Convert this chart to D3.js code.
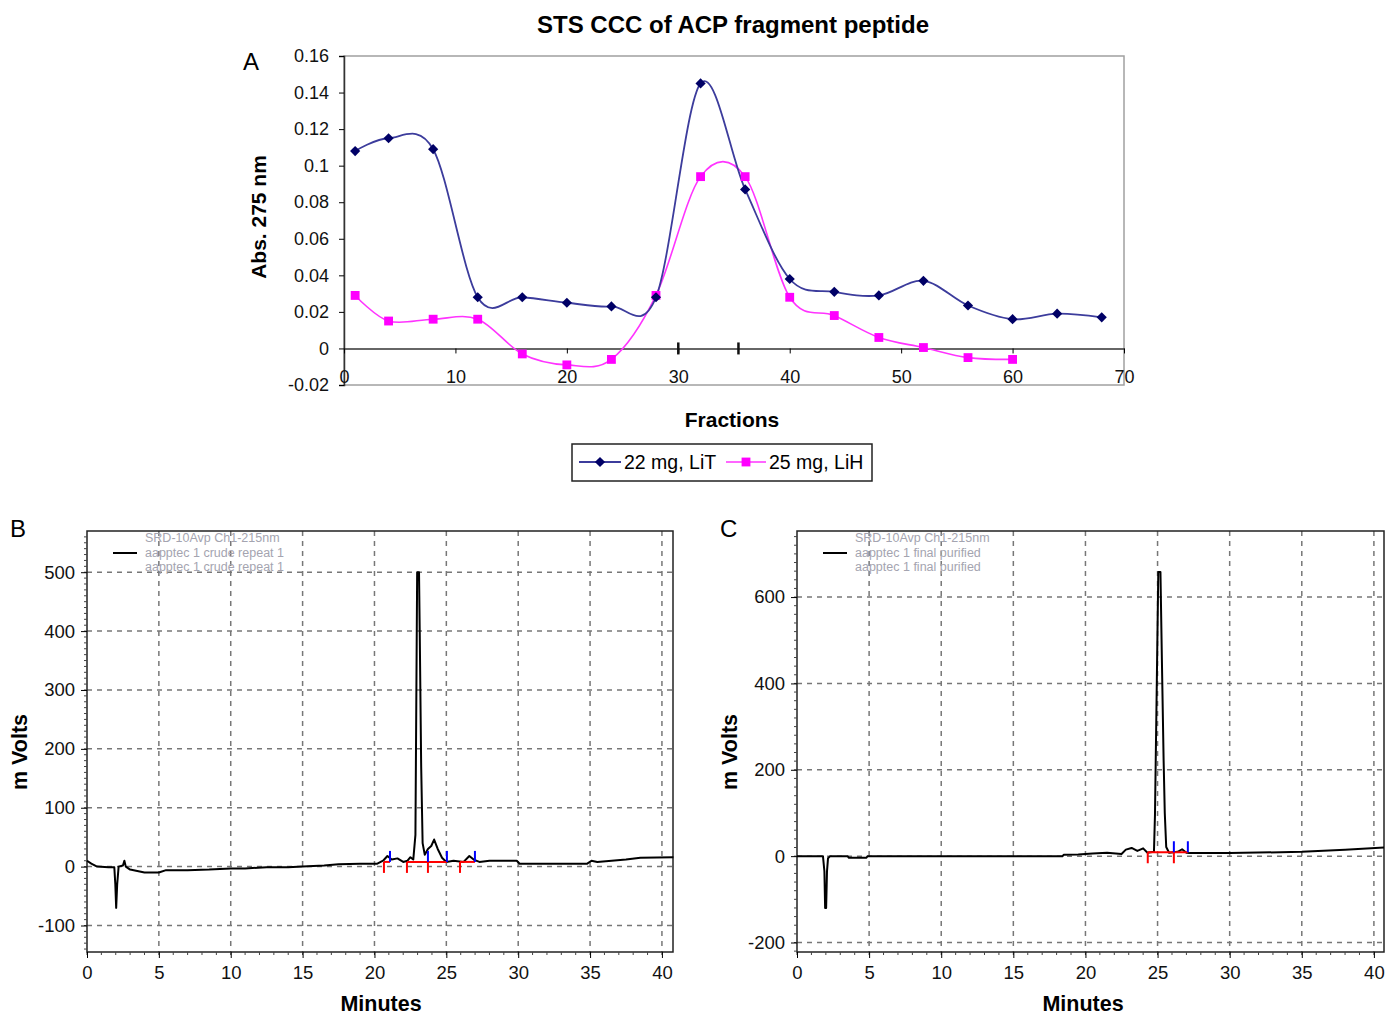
<!DOCTYPE html>
<html>
<head>
<meta charset="utf-8">
<script src="https://cdn.jsdelivr.net/npm/d3@7"></script>
<style>
  body { margin: 0; background: #fff; }
  svg { display: block; font-family: "Liberation Sans", Arial, sans-serif; }
</style>
</head>
<body>
<div id="vis"></div>
<script>
// ---------- Panel A data (CCC fractions) ----------
const fractionsLiT = [1, 4, 8, 12, 16, 20, 24, 28, 32, 36, 40, 44, 48, 52, 56, 60, 64, 68];
const absLiT = [0.108, 0.115, 0.109, 0.028, 0.028, 0.025, 0.023, 0.028, 0.145, 0.087, 0.038, 0.031, 0.029, 0.037, 0.0235, 0.016, 0.019, 0.017];
const fractionsLiH = [1, 4, 8, 12, 16, 20, 24, 28, 32, 36, 40, 44, 48, 52, 56, 60];
const absLiH = [0.029, 0.015, 0.016, 0.016, -0.003, -0.009, -0.006, 0.029, 0.094, 0.094, 0.028, 0.018, 0.006, 0.0005, -0.005, -0.006];
const yTicksA = [-0.02, 0, 0.02, 0.04, 0.06, 0.08, 0.1, 0.12, 0.14, 0.16];
const xTicksA = [0, 10, 20, 30, 40, 50, 60, 70];
const fractionMarks = [30, 35.4];

// ---------- Panel B data (crude HPLC trace) ----------
const timeB = [0, 0.3, 0.7, 1.5, 1.9, 1.97, 2.03, 2.1, 2.2, 2.5, 2.6, 2.7, 3.0, 4.0, 5.0, 5.5, 7, 8.5, 10, 11, 12.5, 14, 15, 16.5, 17.5, 19, 20.2,
  20.6, 20.9, 21.2, 21.6, 22.0, 22.3, 22.5, 22.7, 22.85, 22.97, 23.1, 23.15, 23.25, 23.35, 23.5, 23.72, 23.95, 24.15, 24.4, 24.7, 25.0,
  25.5, 26.2, 26.6, 26.9, 27.3, 28, 29.9, 30.1, 34.8, 35.1, 35.5, 36.5, 37.5, 38.5, 40.8];
const mvB = [10, 5, 0, -1, -1, -30, -70, -30, 0, 2, 10, 0, -5, -10, -10, -6, -6, -5, -3, -3, -1, -1, 0, 2, 4, 5, 5,
  10, 18, 12, 14, 8, 10, 16, 12, 54, 500, 500, 397, 170, 40, 20, 30, 35, 46, 30, 15, 8,
  10, 8, 18, 12, 8, 10, 10, 5, 5, 10, 8, 10, 12, 15, 16];
const redTicksB = [20.66, 22.26, 23.72, 25.95];
const blueTicksB = [21.08, 23.72, 25.04, 26.99];
const redStartB = [20.66, 22.26, 25.95];
const redEndB = [21.08, 25.04, 26.99];
const legendB = ["SRD-10Avp Ch1-215nm", "aapptec 1 crude repeat 1", "aapptec 1 crude repeat 1"];

// ---------- Panel C data (purified HPLC trace) ----------
const timeC = [0, 1.8, 1.9, 1.95, 2.02, 2.08, 2.15, 2.3, 3.5, 3.6, 4.8, 4.9, 18.4, 18.5, 19.5, 20.5, 21.5, 22.5, 22.8, 23.2, 23.6,
  24.0, 24.3, 24.75, 24.82, 24.95, 25.05, 25.2, 25.3, 25.42, 25.5, 25.6, 25.8, 26.4, 26.7, 27.0, 27.2, 30, 35, 38, 40.7];
const mvC = [0, 0, -35, -120, -120, -35, -5, 0, 0, -4, -4, 0, 0, 3, 4, 6, 8, 5, 15, 19, 12,
  18, 8, 10, 95, 408, 658, 658, 454, 222, 100, 21, 8, 10, 16, 8, 7, 7, 10, 15, 20];
const redTicksC = [24.32, 26.13];
const blueTicksC = [26.13, 27.1];
const redStartC = [24.32];
const redEndC = [27.1];
const legendC = ["SRD-10Avp Ch1-215nm", "aapptec 1 final purified", "aapptec 1 final purified"];

const FONT = 'Liberation Sans, Arial, sans-serif';

const svg = d3.select('#vis').append('svg')
  .attr('width', 1386)
  .attr('height', 1015);

// ================= Panel A =================
const xA = d3.scaleLinear().domain([0, 70]).range([344, 1124]);
const yA = d3.scaleLinear().domain([-0.02, 0.16]).range([385, 56]);

svg.append('text')
  .attr('x', 733).attr('y', 33)
  .attr('text-anchor', 'middle')
  .style('font-size', '24px').style('font-weight', 'bold')
  .text('STS CCC of ACP fragment  peptide');

svg.append('text').attr('x', 243).attr('y', 70)
  .style('font-size', '24px').text('A');

// plot frame (grey)
svg.append('rect')
  .attr('x', xA(0)).attr('y', yA(0.16))
  .attr('width', xA(70) - xA(0)).attr('height', yA(-0.02) - yA(0.16))
  .attr('fill', 'none').attr('stroke', '#a0a0a0').attr('stroke-width', 1.5);

// y axis
const yAxisA = d3.axisLeft(yA).tickValues(yTicksA).tickSize(5).tickPadding(10)
  .tickFormat(d => String(+d.toFixed(2)));
const gyA = svg.append('g').attr('transform', `translate(${xA(0)},0)`).call(yAxisA);
gyA.select('.domain').attr('stroke', '#333').attr('stroke-width', 1.5);
gyA.selectAll('text').style('font-size', '18px').style('font-family', FONT).attr('fill', '#111');

// x axis at y = 0
const xAxisA = d3.axisBottom(xA).tickValues(xTicksA).tickSize(5).tickSizeOuter(0).tickFormat(d => String(d));
const gxA = svg.append('g').attr('transform', `translate(0,${yA(0)})`).call(xAxisA);
gxA.select('.domain').attr('stroke', '#333').attr('stroke-width', 1.5);
gxA.selectAll('text').attr('y', 22).style('font-size', '18px').style('font-family', FONT).attr('fill', '#111');

// stray fraction marks on the zero line
svg.append('g').selectAll('line').data(fractionMarks).join('line')
  .attr('x1', d => xA(d)).attr('x2', d => xA(d))
  .attr('y1', yA(0) - 6).attr('y2', yA(0) + 6)
  .attr('stroke', '#111').attr('stroke-width', 2.5);

const smooth = d3.line().curve(d3.curveCatmullRom.alpha(0));

const ptsLiT = fractionsLiT.map((f, i) => [xA(f), yA(absLiT[i])]);
const ptsLiH = fractionsLiH.map((f, i) => [xA(f), yA(absLiH[i])]);

svg.append('path').attr('d', smooth(ptsLiH))
  .attr('fill', 'none').attr('stroke', '#ff33ff').attr('stroke-width', 1.6);
svg.append('path').attr('d', smooth(ptsLiT))
  .attr('fill', 'none').attr('stroke', '#3c3c9c').attr('stroke-width', 1.8);

const diamond = d3.symbol(d3.symbolSquare, 52)();
const square = d3.symbol(d3.symbolSquare, 78)();

svg.append('g').selectAll('path').data(ptsLiH).join('path')
  .attr('d', square).attr('transform', d => `translate(${d[0]},${d[1]})`)
  .attr('fill', '#ff00ff');
svg.append('g').selectAll('path').data(ptsLiT).join('path')
  .attr('d', diamond).attr('transform', d => `translate(${d[0]},${d[1]}) rotate(45)`)
  .attr('fill', '#000066');

// axis titles
svg.append('text').attr('transform', 'rotate(-90)')
  .attr('x', -217).attr('y', 266)
  .attr('text-anchor', 'middle')
  .style('font-size', '21px').style('font-weight', 'bold')
  .text('Abs. 275 nm');
svg.append('text').attr('x', 732).attr('y', 427)
  .attr('text-anchor', 'middle')
  .style('font-size', '21px').style('font-weight', 'bold')
  .text('Fractions');

// legend
const lg = svg.append('g');
lg.append('rect').attr('x', 572).attr('y', 444).attr('width', 300).attr('height', 37)
  .attr('fill', '#fff').attr('stroke', '#222').attr('stroke-width', 1.5);
lg.append('line').attr('x1', 579).attr('x2', 621).attr('y1', 462).attr('y2', 462)
  .attr('stroke', '#3c3c9c').attr('stroke-width', 1.8);
lg.append('path').attr('d', diamond).attr('transform', 'translate(600,462) rotate(45)').attr('fill', '#000066');
lg.append('text').attr('x', 624).attr('y', 469).style('font-size', '19.5px').text('22 mg, LiT');
lg.append('line').attr('x1', 726).attr('x2', 766).attr('y1', 462).attr('y2', 462)
  .attr('stroke', '#ff33ff').attr('stroke-width', 1.6);
lg.append('path').attr('d', square).attr('transform', 'translate(746,462)').attr('fill', '#ff00ff');
lg.append('text').attr('x', 769).attr('y', 469).style('font-size', '19.5px').text('25 mg, LiH');

// ================= Panels B and C =================
function chromatogram(opt) {
  const x = d3.scaleLinear().domain(opt.xDomain).range(opt.xRange);
  const y = d3.scaleLinear().domain(opt.yDomain).range([952, 531]);
  const g = svg.append('g');

  g.append('text').attr('x', opt.letterX).attr('y', 537).style('font-size', '24px').text(opt.letter);

  // dashed grid
  g.append('g').selectAll('line').data(d3.range(5, 41, 5)).join('line')
    .attr('x1', d => x(d)).attr('x2', d => x(d)).attr('y1', 531).attr('y2', 952)
    .attr('stroke', '#777').attr('stroke-width', 1.5).attr('stroke-dasharray', '5 5');
  g.append('g').selectAll('line').data(opt.gridY).join('line')
    .attr('x1', opt.xRange[0]).attr('x2', opt.xRange[1]).attr('y1', d => y(d)).attr('y2', d => y(d))
    .attr('stroke', '#777').attr('stroke-width', 1.5).attr('stroke-dasharray', '5 5');

  // frame
  g.append('rect').attr('x', opt.xRange[0]).attr('y', 531)
    .attr('width', opt.xRange[1] - opt.xRange[0]).attr('height', 421)
    .attr('fill', 'none').attr('stroke', '#222').attr('stroke-width', 1.5);

  // minor ticks
  g.append('g').selectAll('line').data(d3.range(opt.yDomain[0] - opt.yDomain[0] % opt.minor, opt.yDomain[1], opt.minor)).join('line')
    .attr('x1', opt.xRange[0] - 3).attr('x2', opt.xRange[0]).attr('y1', d => y(d)).attr('y2', d => y(d))
    .attr('stroke', '#444').attr('stroke-width', 1);
  g.append('g').selectAll('line').data(d3.range(0, 41, 1)).join('line')
    .attr('x1', d => x(d)).attr('x2', d => x(d)).attr('y1', 952).attr('y2', 955)
    .attr('stroke', '#444').attr('stroke-width', 1);

  const yAxis = d3.axisLeft(y).tickValues(opt.yTicks).tickSize(6).tickPadding(6).tickFormat(d => String(d));
  const gy = g.append('g').attr('transform', `translate(${opt.xRange[0]},0)`).call(yAxis);
  gy.select('.domain').remove();
  gy.selectAll('text').style('font-size', '18.5px').style('font-family', FONT).attr('fill', '#111');

  const xAxis = d3.axisBottom(x).tickValues(d3.range(0, 41, 5)).tickSize(6).tickPadding(8).tickFormat(d => String(d));
  const gx = g.append('g').attr('transform', 'translate(0,952)').call(xAxis);
  gx.select('.domain').remove();
  gx.selectAll('text').style('font-size', '18.5px').style('font-family', FONT).attr('fill', '#111');

  // axis titles
  g.append('text').attr('transform', 'rotate(-90)')
    .attr('x', -752).attr('y', opt.titleX)
    .attr('text-anchor', 'middle').style('font-size', '21.5px').style('font-weight', 'bold')
    .text('m Volts');
  g.append('text').attr('x', opt.minutesX).attr('y', 1011)
    .attr('text-anchor', 'middle').style('font-size', '21.5px').style('font-weight', 'bold')
    .text('Minutes');

  // in-plot legend
  g.append('line').attr('x1', opt.xRange[0] + 26).attr('x2', opt.xRange[0] + 50).attr('y1', 553).attr('y2', 553)
    .attr('stroke', '#000').attr('stroke-width', 2);
  g.append('g').selectAll('text').data(opt.legend).join('text')
    .attr('x', opt.xRange[0] + 58).attr('y', (d, i) => 542 + i * 14.5)
    .style('font-size', '12.5px').attr('fill', '#a4a4b0').text(d => d);

  // trace
  const line = d3.line().x(d => x(d[0])).y(d => y(d[1]));
  g.append('path').attr('d', line(opt.time.map((t, i) => [t, opt.mv[i]])))
    .attr('fill', 'none').attr('stroke', '#000').attr('stroke-width', 2).attr('stroke-linejoin', 'round');

  // integration marks
  g.append('g').selectAll('line').data(opt.redStart).join('line')
    .attr('x1', d => x(d)).attr('x2', (d, i) => x(opt.redEnd[i]))
    .attr('y1', y(opt.base)).attr('y2', y(opt.base))
    .attr('stroke', '#ff0000').attr('stroke-width', 2);
  g.append('g').selectAll('line').data(opt.redTicks).join('line')
    .attr('x1', d => x(d)).attr('x2', d => x(d))
    .attr('y1', y(opt.base)).attr('y2', y(opt.base) + 11)
    .attr('stroke', '#ff0000').attr('stroke-width', 2);
  g.append('g').selectAll('line').data(opt.blueTicks).join('line')
    .attr('x1', d => x(d)).attr('x2', d => x(d))
    .attr('y1', y(opt.base)).attr('y2', y(opt.base) - 11)
    .attr('stroke', '#0000ff').attr('stroke-width', 2);
}

chromatogram({
  letter: 'B', letterX: 10, titleX: 27, minutesX: 381,
  xDomain: [0, 40.77], xRange: [87, 673],
  yDomain: [-145, 570], yTicks: [-100, 0, 100, 200, 300, 400, 500], gridY: [-100, 0, 100, 200, 300, 400, 500], minor: 10,
  time: timeB, mv: mvB, base: 8,
  redTicks: redTicksB, blueTicks: blueTicksB, redStart: redStartB, redEnd: redEndB,
  legend: legendB
});

chromatogram({
  letter: 'C', letterX: 720, titleX: 737, minutesX: 1083,
  xDomain: [0, 40.7], xRange: [797, 1384],
  yDomain: [-222, 753], yTicks: [-200, 0, 200, 400, 600], gridY: [-200, 0, 200, 400, 600], minor: 20,
  time: timeC, mv: mvC, base: 9,
  redTicks: redTicksC, blueTicks: blueTicksC, redStart: redStartC, redEnd: redEndC,
  legend: legendC
});
</script>
</body>
</html>
